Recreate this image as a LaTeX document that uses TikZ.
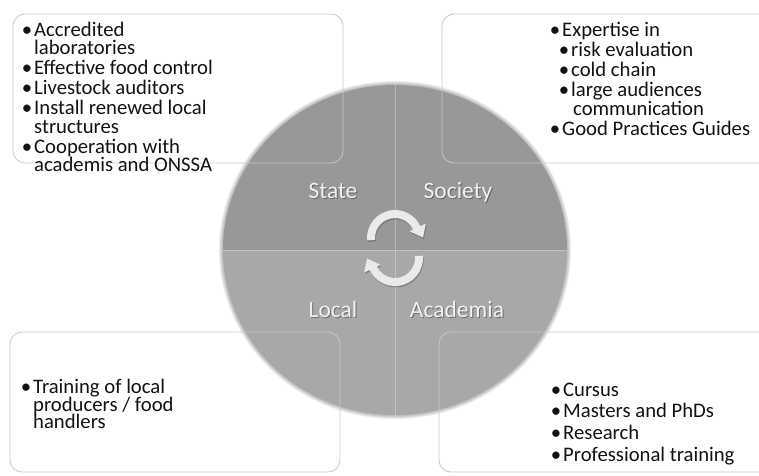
\documentclass[tikz,border=0pt]{standalone}
\usepackage{fontspec}
\setmainfont{Carlito}
\definecolor{ctop}{RGB}{152,152,152}
\definecolor{cbot}{RGB}{168,168,168}
\definecolor{boxline}{RGB}{200,200,200}
\definecolor{arrowc}{RGB}{234,234,234}
\definecolor{labc}{RGB}{242,242,242}
\definecolor{txtc}{RGB}{18,18,18}
\newcommand\bl{\llap{\textbullet\hspace{2pt}}}
\newcommand\cyclearrowshape{(175:28) arc[start angle=175, end angle=335, radius=28] -- (335:34) -- (359:28) -- (335:16) -- (335:20) arc[start angle=335, end angle=175, radius=20] -- cycle}
\begin{document}
\begin{tikzpicture}[x=1pt,y=-1pt,
  itm/.style={anchor=base west, inner sep=0pt, font=\fontsize{20.7}{20}\selectfont, text=txtc},
  lab/.style={anchor=base, inner sep=0pt, font=\fontsize{23.5}{24}\selectfont, text=labc},
  labsh/.style={anchor=base, inner sep=0pt, font=\fontsize{23.5}{24}\selectfont, text=black, text opacity=0.35},
  infobox/.style={draw=boxline, line width=0.8pt, rounded corners=12pt}]
\useasboundingbox (0,0) rectangle (759,475);
\clip (0,0) rectangle (759,475);
% soft edge of the disc
\foreach \k in {1,...,5}
  \fill[black, opacity=0.07] (395,250) ellipse [x radius={171+\k}, y radius={164+\k}];
% the disc, in four quadrants
\begin{scope}
  \clip (395,250) ellipse [x radius=172, y radius=165];
  \fill[ctop] (200,70) rectangle (600,250);
  \fill[cbot] (200,250) rectangle (600,430);
  \draw[white, opacity=0.3, line width=1pt] (395,70) -- (395,430);
  \draw[white, opacity=0.3, line width=1pt] (200,250) -- (600,250);
\end{scope}
% cycle arrows
\begin{scope}[shift={(395,238)}]
  \fill[black, opacity=0.2, shift={(0.8,1.5)}] \cyclearrowshape;
  \fill[arrowc] \cyclearrowshape;
\end{scope}
\begin{scope}[shift={(395,258)}, rotate=180]
  \fill[black, opacity=0.2, shift={(-0.8,-1.5)}] \cyclearrowshape;
  \fill[arrowc] \cyclearrowshape;
\end{scope}
% quadrant labels
\node[labsh] (stateS) at (334,199) {State};
\node[lab] (state) at (333,198) {State};
\node[labsh] (societyS) at (459,199) {Society};
\node[lab] (society) at (458,198) {Society};
\node[labsh] (localS) at (334,318) {Local};
\node[lab] (local) at (333,317) {Local};
\node[labsh] (academiaS) at (458,318) {Academia};
\node[lab] (academia) at (457,317) {Academia};
% boxes
\draw[infobox] (13,14) rectangle (343,163);
\draw[infobox] (442,14) rectangle (790,163);
\draw[infobox] (10,332) rectangle (340,472);
\draw[infobox] (439,332) rectangle (790,472);
% top-left text
\node[itm] (a1) at (34,36) {\bl Accredited};
\node[itm] (a2) at (34,54) {laboratories};
\node[itm] (a3) at (34,74) {\bl Effective food control};
\node[itm] (a4) at (34,94) {\bl Livestock auditors};
\node[itm] (a5) at (34,114) {\bl Install renewed local};
\node[itm] (a6) at (34,133) {structures};
\node[itm] (a7) at (34,153) {\bl Cooperation with};
\node[itm] (a8) at (34,171) {academis and ONSSA};
% top-right text
\node[itm] (b1) at (562,36) {\bl Expertise in};
\node[itm] (b2) at (571,56) {\bl risk evaluation};
\node[itm] (b3) at (571,76) {\bl cold chain};
\node[itm] (b4) at (571,96) {\bl large audiences};
\node[itm] (b5) at (573,115) {communication};
\node[itm] (b6) at (562,135) {\bl Good Practices Guides};
% bottom-left text
\node[itm] (c1) at (33,393) {\bl Training of local};
\node[itm] (c2) at (33,411) {producers / food};
\node[itm] (c3) at (33,428) {handlers};
% bottom-right text
\node[itm] (d1) at (563,396) {\bl Cursus};
\node[itm] (d2) at (563,417) {\bl Masters and PhDs};
\node[itm] (d3) at (563,439) {\bl Research};
\node[itm] (d4) at (563,461) {\bl Professional training};
\end{tikzpicture}
\end{document}
